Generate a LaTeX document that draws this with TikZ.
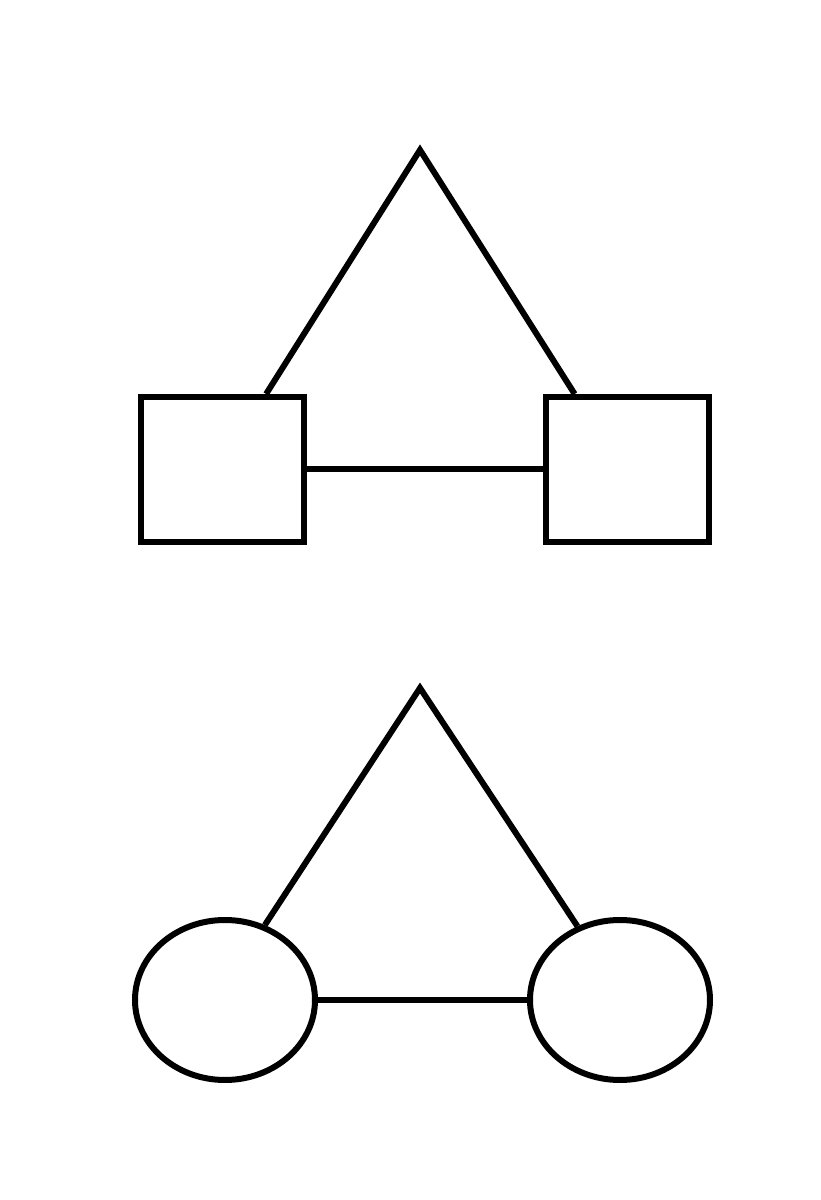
\documentclass[tikz,border=0pt]{standalone}
\usepackage{amsmath}
\usetikzlibrary{shapes.geometric}

\begin{document}
\begin{tikzpicture}[line width=0.06cm,
    male/.style={draw,rectangle,minimum width=1.63cm,minimum height=1.45cm,inner sep=0pt},
    female/.style={draw,ellipse,minimum width=1.8cm,minimum height=1.6cm,inner sep=0pt}]
      \useasboundingbox (0,0) rectangle (8.21,12);

      \coordinate (t) at (4.20,10.50);
      \node [male] (1) at (2.225,7.305) {};
      \node [male] (2) at (6.275,7.305) {};

      \coordinate (b) at (4.20,5.12);
      \node [female] (3) at (2.25,2.00) {};
      \node [female] (4) at (6.20,2.00) {};

      \draw (1) -- (2);
      \draw[line join=miter] (1.60) -- (t) -- (2.125);
      \draw (3) -- (4);
      \draw[line join=miter] (3.62) -- (b) -- (4.120);
    \end{tikzpicture}
\end{document}
